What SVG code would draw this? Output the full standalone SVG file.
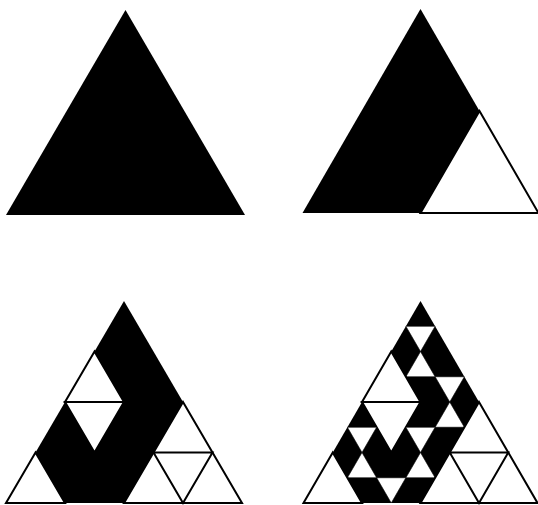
<svg xmlns="http://www.w3.org/2000/svg" width="538" height="505" viewBox="0 0 538 505">
<style>
.b{fill:#000;stroke:none}
.w{fill:#fff;stroke:#000;stroke-width:2;stroke-linejoin:miter}
.s{fill:#fff;stroke:#000;stroke-width:0.6;stroke-linejoin:miter}
.l{fill:none;stroke:#000;stroke-width:2;stroke-linejoin:miter}
</style>
<rect width="538" height="505" fill="#fff"/>
<g id="level0">
<polygon class="b" points="125.5,10 6,215 245,215"/>
</g>
<g id="level1">
<polygon class="b" points="420.5,9 302.5,213 538.5,213"/>
<polygon class="w" points="479.5,111 420.5,213 538.5,213"/>
</g>
<g id="level2">
<polygon class="b" points="124,301 6,503 242,503"/>
<polygon class="w" points="94.5,351.5 65,402 124,402"/>
<polygon class="w" points="65,402 124,402 94.5,452.5"/>
<polygon class="w" points="35.5,452.5 6,503 65,503"/>
<polygon class="w" points="183,402 124,503 242,503"/>
<polygon class="l" points="153.5,452.5 212.5,452.5 183,503"/>
</g>
<g id="level3">
<polygon class="b" points="420.5,301 303.5,503 537.5,503"/>
<polygon class="s" points="405.875,326.25 435.125,326.25 420.5,351.5"/>
<polygon class="s" points="420.5,351.5 405.875,376.75 435.125,376.75"/>
<polygon class="w" points="391.25,351.5 362,402 420.5,402"/>
<polygon class="s" points="435.125,376.75 464.375,376.75 449.75,402"/>
<polygon class="w" points="362,402 420.5,402 391.25,452.5"/>
<polygon class="s" points="449.75,402 435.125,427.25 464.375,427.25"/>
<polygon class="s" points="347.375,427.25 376.625,427.25 362,452.5"/>
<polygon class="s" points="405.875,427.25 435.125,427.25 420.5,452.5"/>
<polygon class="s" points="362,452.5 347.375,477.75 376.625,477.75"/>
<polygon class="s" points="420.5,452.5 405.875,477.75 435.125,477.75"/>
<polygon class="s" points="376.625,477.75 405.875,477.75 391.25,503"/>
<polygon class="w" points="332.75,452.5 303.5,503 362,503"/>
<polygon class="w" points="479,402 420.5,503 537.5,503"/>
<polygon class="l" points="449.75,452.5 508.25,452.5 479,503"/>
</g>
</svg>
